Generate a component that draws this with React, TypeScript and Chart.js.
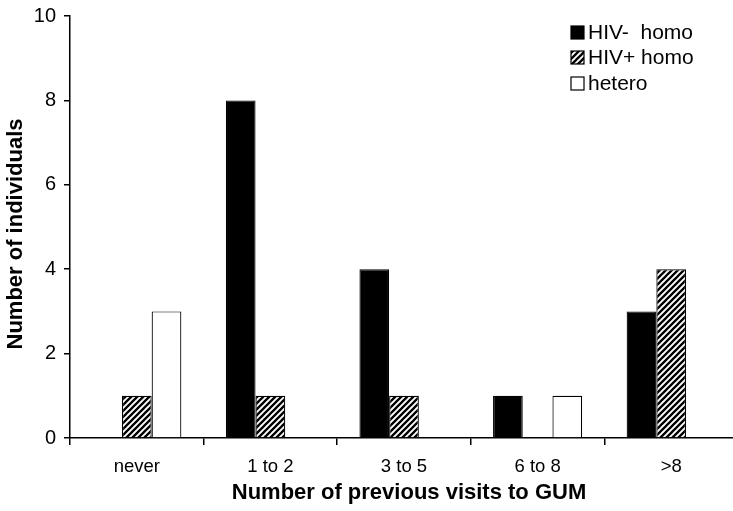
import React, { useEffect, useRef } from "react";
import { Chart, registerables } from "chart.js";

Chart.register(...registerables);

const categories = ["never", "1 to 2", "3 to 5", "6 to 8", ">8"];
const hivNegHomo = [0, 8, 4, 1, 3];
const hivPosHomo = [1, 1, 1, 0, 4];
const hetero = [3, 0, 0, 1, 0];
const seriesLabels = ["HIV-  homo", "HIV+ homo", "hetero"];
const yTicks = [0, 2, 4, 6, 8, 10];
const xTitle = "Number of previous visits to GUM";
const yTitle = "Number of individuals";

const FONT = "'Liberation Sans', Arial, Helvetica, sans-serif";

function makeHatch(): CanvasPattern | string {
  const c = document.createElement("canvas");
  const s = 6;
  c.width = s;
  c.height = s;
  const g = c.getContext("2d");
  if (!g) return "#000";
  g.fillStyle = "#fff";
  g.fillRect(0, 0, s, s);
  g.strokeStyle = "#000";
  g.lineWidth = 2.3;
  g.beginPath();
  g.moveTo(-1, s + 1);
  g.lineTo(s + 1, -1);
  g.moveTo(-2, 2);
  g.lineTo(2, -2);
  g.moveTo(s - 2, s + 2);
  g.lineTo(s + 2, s - 2);
  g.stroke();
  const p = g.createPattern(c, "repeat");
  return p || "#000";
}

export default function App() {
  const ref = useRef<HTMLCanvasElement | null>(null);

  useEffect(() => {
    document.body.style.margin = "0";
    const canvas = ref.current;
    if (!canvas) return;
    const hatch = makeHatch();
    const fills: any[] = ["#000", hatch, "#fff"];

    const overlayPlugin = {
      id: "overlay",
      afterDraw(chart: any) {
        const ctx = chart.ctx;
        ctx.save();
        // legend
        const x0 = 571;
        const rows = [32, 57, 83];
        ctx.font = `21px ${FONT}`;
        ctx.textBaseline = "middle";
        ctx.textAlign = "left";
        seriesLabels.forEach((lab, i) => {
          const y = rows[i];
          ctx.fillStyle = fills[i];
          ctx.fillRect(x0, y - 6, 13, 13);
          ctx.strokeStyle = "#000";
          ctx.lineWidth = 1.2;
          ctx.strokeRect(x0, y - 6, 13, 13);
          ctx.fillStyle = "#000";
          ctx.fillText(lab, 588, y + 1);
        });
        // axis titles
        ctx.font = `bold 22px ${FONT}`;
        ctx.textAlign = "center";
        ctx.textBaseline = "middle";
        ctx.fillStyle = "#000";
        ctx.fillText(xTitle, 409, 493);
        ctx.translate(16, 234);
        ctx.rotate(-Math.PI / 2);
        ctx.fillText(yTitle, 0, 0);
        ctx.restore();
      },
    };

    const chart = new Chart(canvas, {
      type: "bar",
      data: {
        labels: categories,
        datasets: [
          { label: seriesLabels[0], data: hivNegHomo, backgroundColor: fills[0], borderColor: "#000", borderWidth: 1.2 },
          { label: seriesLabels[1], data: hivPosHomo, backgroundColor: fills[1], borderColor: "#000", borderWidth: 1.2 },
          { label: seriesLabels[2], data: hetero, backgroundColor: fills[2], borderColor: "#000", borderWidth: 1.2 },
        ],
      },
      options: {
        responsive: false,
        animation: false,
        devicePixelRatio: 1,
        layout: { padding: { top: 16, left: 0, right: 0, bottom: 0 } },
        plugins: {
          legend: { display: false },
          tooltip: { enabled: false },
        },
        datasets: {
          bar: { categoryPercentage: 0.667, barPercentage: 1.0 },
        },
        scales: {
          x: {
            offset: true,
            grid: {
              offset: true,
              display: true,
              drawOnChartArea: false,
              drawTicks: true,
              tickLength: 7,
              color: "#000",
              lineWidth: 1.5,
            },
            border: { display: true, color: "#000", width: 1.5 },
            ticks: {
              color: "#000",
              font: { family: FONT, size: 18.5 },
              padding: 11,
              maxRotation: 0,
            },
            title: { display: false },
            afterFit(scale: any) {
              scale.height = 73;
              scale.paddingLeft = 0;
              scale.paddingRight = 0;
            },
          },
          y: {
            min: 0,
            max: 10,
            afterBuildTicks(scale: any) {
              scale.ticks = yTicks.map((v) => ({ value: v }));
            },
            grid: {
              display: true,
              drawOnChartArea: false,
              drawTicks: true,
              tickLength: 6,
              color: "#000",
              lineWidth: 1.5,
            },
            border: { display: true, color: "#000", width: 1.5 },
            ticks: {
              color: "#000",
              font: { family: FONT, size: 20 },
              padding: 8,
            },
            title: { display: false },
            afterFit(scale: any) {
              scale.width = 70;
              scale.paddingTop = 0;
              scale.paddingBottom = 0;
            },
          },
        },
      },
      plugins: [overlayPlugin],
    } as any);

    return () => {
      chart.destroy();
    };
  }, []);

  return (
    <div style={{ width: 733, height: 511, overflow: "hidden", background: "#fff" }}>
      <canvas ref={ref} width={738} height={511} style={{ display: "block" }} />
    </div>
  );
}
